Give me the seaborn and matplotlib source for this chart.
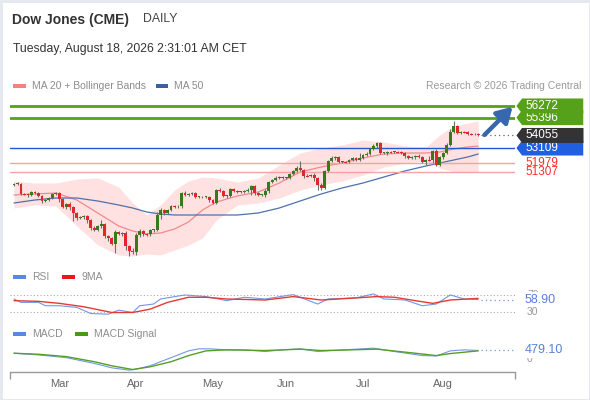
"""
Dow Jones (CME) daily chart: candles + MA20/Bollinger + MA50, RSI and MACD panels.
"""
import numpy as np
import pandas as pd
import matplotlib
matplotlib.use("Agg")
import matplotlib.pyplot as plt
from matplotlib.path import Path
from matplotlib.patches import Rectangle
from matplotlib.transforms import blended_transform_factory
import seaborn as sns

# ── Data ──────────────────────────────────────────────────────
last_day = "2026-08-17"
first_open = 50330
closes = [
    50404, 50440, 49652, 49640, 49577, 49803, 49727, 49502, 49126, 49201,
    49351, 49652, 49727, 49276, 48675, 48900, 48675, 48223, 47847, 47923,
    47998, 47697, 47095, 46945, 47246, 47396, 46494, 46343, 45892, 46795,
    46644, 46719, 45742, 45366, 45291,
    46569, 46870, 46644, 46620, 46945, 46960, 48073, 48449, 48223, 48449,
    48750, 48720, 48760, 49727, 49577, 49652, 49727, 49427, 49440, 49420,
    49430, 49201, 48975, 49953, 49878, 49502, 49510, 50028, 49878, 49803,
    49810, 49878, 49953, 50254, 49727, 49577,
    49590, 49878, 50555, 50705, 50855, 50931, 50855, 50870, 51156, 51382,
    51607, 51457, 51006, 51000, 51081, 50855, 50329, 50103, 51382, 52134,
    52359, 52435, 52059, 52070, 52050, 52209, 52359, 52209, 52359, 52585,
    52660, 53036, 53262,
    53487, 52735, 52740, 52811, 52800, 52820, 52811, 52735, 52510, 52359,
    52435, 52510, 52435, 52059, 52209, 52200, 52886, 51833, 52435, 52735,
    53337, 54315, 54766, 54239, 54315, 54300, 54164, 54150, 54164, 54055,
]
hi_wick = [
    80, 120, 60, 90, 70, 100, 60, 80, 90, 70,
    60, 90, 70, 100, 80, 60, 150, 90, 70, 110,
    80, 60, 90, 120, 70, 300, 80, 90, 60, 150,
    100, 80, 120, 90, 200, 150, 120, 90, 80, 100,
    90, 200, 120, 80, 90, 60, 70, 80, 90, 150,
    100, 80, 90, 60, 80, 70, 80, 90, 70, 150,
    80, 90, 60, 100, 70, 80, 90, 120, 80, 90,
    100, 80, 150, 90, 70, 120, 80, 100, 60, 90,
    100, 150, 500, 100, 120, 80, 120, 90, 150, 100,
    80, 120, 90, 100, 80, 90, 110, 80, 70, 400,
    90, 120, 100, 150, 80, 100, 70, 90, 80, 100,
    90, 80, 100, 70, 90, 80, 120, 100, 80, 300,
    90, 150, 100, 80, 150, 200, 350, 100, 80, 90,
    70, 80, 60, 70,
]
lo_wick = [
    70, 60, 100, 80, 120, 90, 70, 100, 150, 90,
    80, 70, 90, 250, 100, 120, 200, 600, 150, 100,
    120, 200, 150, 90, 100, 150, 120, 200, 100, 700,
    100, 150, 300, 350, 150, 200, 150, 120, 90, 100,
    150, 100, 300, 120, 90, 100, 120, 90, 150, 100,
    80, 90, 100, 80, 70, 90, 120, 80, 90, 100,
    80, 150, 90, 70, 100, 80, 90, 100, 350, 120,
    90, 100, 150, 120, 80, 90, 100, 80, 70, 90,
    100, 80, 90, 120, 100, 90, 200, 350, 150, 100,
    80, 90, 120, 100, 80, 90, 70, 100, 80, 90,
    100, 80, 90, 100, 120, 90, 80, 150, 100, 90,
    80, 100, 120, 90, 80, 150, 100, 80, 250, 100,
    250, 100, 80, 120, 100, 80, 90, 100, 80, 90,
    80, 70, 90, 60,
]

# indicator samples (bar index -> value)
band_idx = [0, 6, 12, 18, 24, 30, 34, 38, 42, 46, 50, 54, 58, 64,
            70, 76, 82, 88, 94, 100, 106, 112, 118, 122, 126, 130, 133]
ma20 = [49577, 49652, 49727, 49201, 48223, 47246, 46870, 46644, 46719, 47020,
        47547, 48449, 49051, 49502, 49803, 50479, 51307, 51683, 51983, 52359,
        52660, 52735, 52735, 52811, 53036, 53187, 53262]
bb_upper = [50630, 50479, 50479, 50780, 50855, 50179, 48975, 48073, 48825, 49953,
            50630, 50931, 50855, 50555, 50855, 51833, 52735, 53111, 53337, 53713,
            53563, 53262, 53187, 54089, 54766, 54991, 55142]
bb_lower = [48599, 48825, 48750, 47246, 45817, 45065, 44990, 45140, 45065, 45441,
            45817, 46343, 47697, 48825, 48975, 49351, 49953, 50329, 50630, 51081,
            51683, 51983, 52134, 51607, 51307, 51307, 51307]
ma50 = [48975, 49201, 49351, 49351, 49126, 48825, 48599, 48299, 48148, 48073,
        48073, 48073, 48073, 48073, 48223, 48599, 49126, 49652, 50103, 50479,
        50931, 51382, 51758, 51983, 52209, 52435, 52660]

rsi_idx = [0, 2, 7, 9, 13, 18, 22, 27, 30, 34, 36, 40, 42, 49, 55, 61,
           66, 72, 80, 82, 87, 90, 98, 103, 106, 112, 117, 121, 125, 129, 133]
rsi = [60.2, 52.6, 52.6, 45.1, 45.1, 41.3, 27.7, 26.2, 35.3, 30.0, 45.1,
       48.9, 60.2, 69.2, 65.5, 56.4, 64.0, 60.2, 70.0, 64.0, 48.9, 60.2,
       62.5, 71.5, 60.2, 57.9, 45.1, 48.9, 69.2, 60.2, 58.9]
rsi_ma_idx = [0, 7, 13, 20, 28, 34, 39, 44, 50, 55, 61, 72, 80, 88, 93,
              104, 109, 115, 120, 125, 133]
rsi_ma = [56.4, 54.9, 50.4, 42.8, 30.0, 30.0, 37.5, 52.6, 64.0, 64.0, 60.2,
          57.9, 65.5, 57.9, 60.2, 65.5, 64.0, 56.4, 50.4, 57.9, 61.5]

macd_idx = [0, 7, 15, 23, 28, 33, 35, 39, 42, 47, 50, 53, 56, 61, 66, 72,
            77, 82, 87, 93, 103, 109, 117, 121, 125, 129, 133]
macd = [323, 228, 76, -247, -494, -627, -570, -380, -152, 228, 456, 570, 570,
        513, 513, 418, 513, 570, 418, 494, 608, 418, 190, 171, 456, 513, 479.1]
signal_idx = [0, 7, 15, 23, 28, 34, 39, 45, 50, 55, 61, 72, 82, 88, 93,
              104, 115, 121, 125, 133]
signal = [323, 266, 133, -152, -380, -589, -437, -152, 190, 456, 513, 475,
          551, 475, 494, 551, 323, 190, 304, 456]

levels = [56272, 55396, 54055, 53109, 51979, 51307]
rsi_last, macd_last = 58.90, 479.10

# ── Colours ──────────────────────────────────────────────────
GREEN_C, RED_C = "#367a1c", "#e0262b"
RES_C, PIV_C, SUP_C = "#56a11a", "#2258d0", "#f4a3a3"
BLUE_L, RED_L, GREEN_L = "#7497e4", "#e53935", "#55a024"
GREY_T = "#8c8c8c"

sns.set_theme(style="white")
plt.rcParams["font.family"] = ["Liberation Sans", "DejaVu Sans"]

W, H = 590, 400
fig = plt.figure(figsize=(W / 100, H / 100), dpi=100, facecolor="white")


def panel(top, bottom, left=10, right=515):
    return fig.add_axes([left / W, 1 - bottom / H, (right - left) / W, (bottom - top) / H])


def fx(px):
    return px / W


def fy(py):
    return 1 - py / H


def tag_box(x0, y0, width, height, mutation_size):
    pad = 0.25 * mutation_size
    x0, y0 = x0 - pad, y0 - 1.5
    x1 = x0 + width + 2 * pad + 1.9 * mutation_size
    y1 = y0 + height + 3.0
    tip = (y1 - y0) / 2
    verts = [(x0, y0), (x1, y0), (x1, y1), (x0, y1), (x0 - tip * 0.75, (y0 + y1) / 2), (x0, y0)]
    return Path(verts, [Path.MOVETO] + [Path.LINETO] * 4 + [Path.CLOSEPOLY])


closes = np.array(closes, dtype=float)
n = len(closes)
idx = np.arange(n)
dates = pd.bdate_range(end=last_day, periods=n)
month_pos = [i for i in range(1, n) if dates[i].month != dates[i - 1].month]
month_lab = [dates[i].strftime("%b") for i in month_pos]
XMIN, XMAX = -1.15, 143.55

# ── Main price panel ─────────────────────────────────────────
ax = panel(95, 258)
opens = np.r_[first_open, closes[:-1]]
up = closes >= opens
highs = np.maximum(opens, closes) + np.array(hi_wick)
lows = np.minimum(opens, closes) - np.array(lo_wick)
body = closes - opens
body = np.where(np.abs(body) < 50, np.where(up, 50, -50), body)

ax.fill_between(band_idx, bb_lower, bb_upper, color="#ffe1e1", lw=0, zorder=1)
sns.lineplot(x=band_idx, y=ma20, ax=ax, color="#f28a8a", lw=0.9, zorder=2)
sns.lineplot(x=band_idx, y=ma50, ax=ax, color="#4d71ae", lw=0.9, zorder=2)

level_style = [(RES_C, 2.0), (RES_C, 2.0), (None, 0), (PIV_C, 1.0), (SUP_C, 1.0), (SUP_C, 1.0)]
for lv, (col, lw) in zip(levels, level_style):
    if col:
        ax.axhline(lv, color=col, lw=lw, zorder=2)
ax.hlines(levels[2], n - 0.3, XMAX, color="#666666", lw=0.9, ls=(0, (1, 2.5)), zorder=2)

ax.vlines(idx, lows, highs, color="#6e6e6e", lw=0.8, zorder=3)
ax.bar(idx, body, bottom=opens, width=0.82, color=np.where(up, GREEN_C, RED_C),
       linewidth=0, zorder=4)

ax.annotate("", xy=(XMAX - 0.7, levels[0] - 60), xytext=(n + 0.8, closes[-1] + 40),
            arrowprops=dict(arrowstyle="-|>,head_length=0.75,head_width=0.45",
                            color="#3768ad", lw=3.2, shrinkA=0, shrinkB=0), zorder=6)

ax.set_xlim(XMIN, XMAX)
ax.set_ylim(44839, 57097)
ax.axis("off")

tr = blended_transform_factory(ax.transAxes, ax.transData)
lab_x = (525 - 10) / 505
label_fill = [RES_C, RES_C, "#333333", "#1f5fe0", None, None]
for order in [1, 0, 2, 3, 4, 5]:
    lv, fill = levels[order], label_fill[order]
    if fill:
        ax.text(lab_x, lv, f"{lv}", transform=tr, color="white", fontsize=8.5,
                va="center", ha="left", zorder=10 - order, clip_on=False,
                bbox=dict(boxstyle=tag_box, fc=fill, ec="none"))
    else:
        ax.text(lab_x, lv, f"{lv}", transform=tr, color="#ff2d2d", fontsize=8.5,
                va="center", ha="left", clip_on=False)

# ── RSI panel ────────────────────────────────────────────────
ax_r = panel(288, 318)
for lv in (70, 30):
    ax_r.axhline(lv, color="#aaaaaa", lw=0.8, ls=(0, (1, 2)))
sns.lineplot(x=rsi_idx, y=rsi, ax=ax_r, color=BLUE_L, lw=0.8)
sns.lineplot(x=rsi_ma_idx, y=rsi_ma, ax=ax_r, color=RED_L, lw=1.0)
ax_r.hlines(rsi_last, n - 0.3, XMAX, color=BLUE_L, lw=0.9, ls=(0, (1, 2.5)))
ax_r.set_xlim(XMIN, XMAX)
ax_r.set_ylim(17.7, 84.7)
ax_r.axis("off")
tr_r = blended_transform_factory(ax_r.transAxes, ax_r.transData)
for lv in (70, 30):
    ax_r.text((527 - 10) / 505, lv, f"{lv}", transform=tr_r, color="#999999",
              fontsize=7.5, va="center", ha="left", clip_on=False)
ax_r.text(lab_x, rsi_last, f"{rsi_last:.2f}", transform=tr_r, color="#5b7fd8",
          fontsize=9, va="center", ha="left", clip_on=False,
          bbox=dict(boxstyle="square,pad=0.15", fc="white", ec="none"))

# ── MACD panel ───────────────────────────────────────────────
ax_m = panel(344, 372)
sns.lineplot(x=macd_idx, y=macd, ax=ax_m, color=BLUE_L, lw=0.8)
sns.lineplot(x=signal_idx, y=signal, ax=ax_m, color=GREEN_L, lw=1.0)
ax_m.hlines(macd_last, n - 0.3, XMAX, color=BLUE_L, lw=0.9, ls=(0, (1, 2.5)))
ax_m.set_xlim(XMIN, XMAX)
ax_m.set_ylim(-728, 840)
tr_m = blended_transform_factory(ax_m.transAxes, ax_m.transData)
ax_m.text((527 - 10) / 505, 0, "0", transform=tr_m, color="#999999",
          fontsize=7.5, va="center", ha="left", clip_on=False)
ax_m.text(lab_x, macd_last, f"{macd_last:.2f}", transform=tr_m, color="#5b7fd8",
          fontsize=9, va="center", ha="left", clip_on=False,
          bbox=dict(boxstyle="square,pad=0.15", fc="white", ec="none"))
for side in ("top", "left", "right"):
    ax_m.spines[side].set_visible(False)
ax_m.spines["bottom"].set_color("#9a9a9a")
ax_m.spines["bottom"].set_linewidth(1.0)
ax_m.set_yticks([])
ax_m.set_xticks(month_pos)
ax_m.set_xticklabels(month_lab, fontsize=8, color="#666666")
ax_m.set_xticks([XMIN, XMAX], minor=True)
ax_m.tick_params(axis="x", which="major", length=0, pad=5)
ax_m.tick_params(axis="x", which="minor", length=5, width=1, color="#9a9a9a", bottom=True)
ax_m.set_xlabel("")

# ── Titles and legends ───────────────────────────────────────
fig.text(fx(12), fy(20), "Dow Jones (CME)", fontsize=10, fontweight="bold",
         color="#333333", va="center")
fig.text(fx(143), fy(19), "DAILY", fontsize=8.8, color="#444444", va="center")
fig.text(fx(13), fy(49), "Tuesday, August 18, 2026 2:31:01 AM CET", fontsize=8.8,
         color="#333333", va="center")
fig.text(fx(581), fy(86), "Research \u00a9 2026 Trading Central", fontsize=7.5,
         color="#9a9a9a", va="center", ha="right")


def legend_item(x, y, w, color, label):
    fig.add_artist(Rectangle((fx(x), fy(y + 2)), w / W, 4 / H, transform=fig.transFigure,
                             fc=color, ec="none"))
    fig.text(fx(x + w + 6), fy(y), label, fontsize=7.5, color=GREY_T, va="center")


legend_item(13, 86, 13, "#f77f7f", "MA 20 + Bollinger Bands")
legend_item(156, 86, 12, "#3c5f9e", "MA 50")
legend_item(13, 277, 13, "#5b86e5", "RSI")
legend_item(62, 277, 13, "#e8191b", "9MA")
legend_item(13, 334, 13, "#5b86e5", "MACD")
legend_item(75, 334, 13, "#4a9a10", "MACD Signal")

fig.add_artist(Rectangle((0.5 / W, 0.5 / H), 1 - 1 / W, 1 - 1 / H, transform=fig.transFigure,
                         fill=False, ec="#e3e8ec", lw=2))

fig.savefig("out.png", dpi=100, facecolor="white")
